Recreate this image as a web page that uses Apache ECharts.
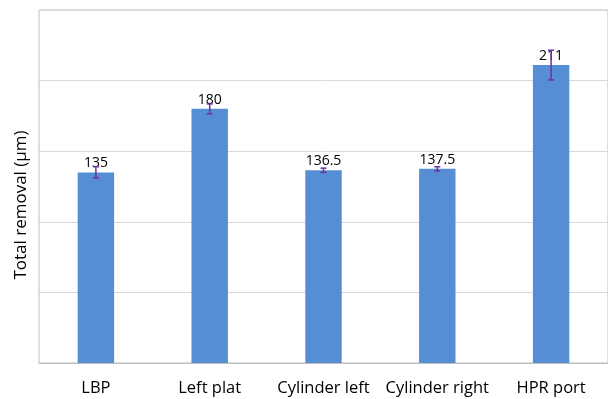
<!DOCTYPE html>
<html>
<head>
<meta charset="utf-8">
<script src="https://cdn.jsdelivr.net/npm/echarts@6/dist/echarts.min.js"></script>
<style>
  html, body { margin: 0; padding: 0; background: #fff; }
  #chart { width: 608px; height: 399px; }
</style>
</head>
<body>
<div id="chart"></div>
<script>
const categories = ['LBP', 'Left plat', 'Cylinder left', 'Cylinder right', 'HPR port'];
const removal = [135, 180, 136.5, 137.5, 211];
const errors = [4, 3.5, 1.5, 1.5, 10.5];
const yTitle = 'Total removal (µm)';

const chart = echarts.init(document.getElementById('chart'));

const option = {
  animation: false,
  grid: {
    left: 39, right: -1, top: 10, bottom: 36,
    show: true, borderColor: '#bfbfbf', borderWidth: 1
  },
  // y-axis title, placed by hand to sit like the original
  graphic: [{
    type: 'text',
    x: 21, y: 205,
    rotation: Math.PI / 2,
    style: {
      text: yTitle, fill: '#000',
      font: '17px "Open Sans"',
      align: 'center', verticalAlign: 'middle'
    }
  }],
  xAxis: {
    type: 'category',
    data: categories,
    axisTick: { show: false },
    axisLine: { lineStyle: { color: '#bfbfbf' } },
    axisLabel: {
      interval: 0,
      color: '#000', fontFamily: 'Open Sans', fontSize: 16.5, margin: 17
    }
  },
  yAxis: {
    type: 'value',
    min: 0, max: 250, interval: 50,
    axisLabel: { show: false },
    axisLine: { show: false },
    axisTick: { show: false },
    splitLine: { lineStyle: { color: '#d9d9d9' } }
  },
  series: [
    {
      type: 'bar',
      data: removal,
      barWidth: '32%',
      itemStyle: { color: '#558ed5' },
      label: {
        show: true, position: 'top', distance: 2,
        color: '#000', fontFamily: 'Open Sans', fontSize: 14,
        formatter: p => String(p.value)
      },
      z: 2
    },
    {
      type: 'custom',
      z: 5,
      data: removal.map((v, i) => [i, v - errors[i], v + errors[i]]),
      renderItem: (params, api) => {
        const lo = api.coord([api.value(0), api.value(1)]);
        const hi = api.coord([api.value(0), api.value(2)]);
        const x = lo[0], hw = 3;
        const style = { stroke: '#7030a0', lineWidth: 1.5 };
        return {
          type: 'group',
          children: [
            { type: 'line', shape: { x1: x, y1: lo[1], x2: x, y2: hi[1] }, style },
            { type: 'line', shape: { x1: x - hw, y1: lo[1], x2: x + hw, y2: lo[1] }, style },
            { type: 'line', shape: { x1: x - hw, y1: hi[1], x2: x + hw, y2: hi[1] }, style }
          ]
        };
      }
    }
  ]
};

chart.setOption(option);
</script>
</body>
</html>
